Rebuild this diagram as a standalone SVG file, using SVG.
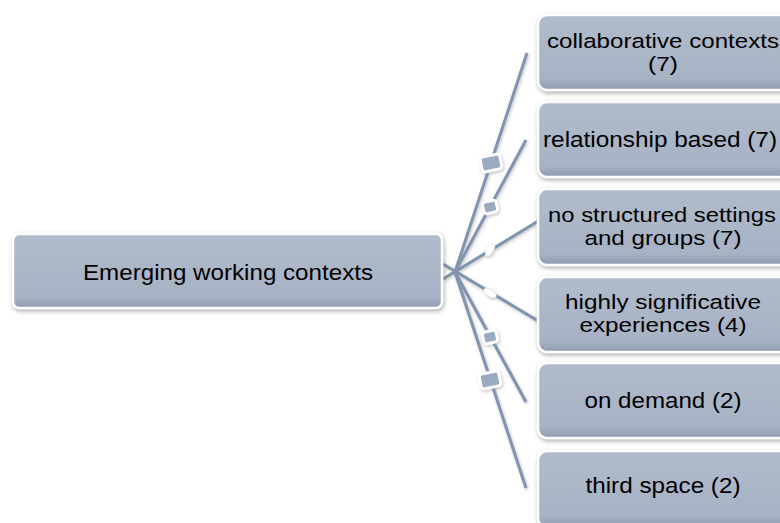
<svg xmlns="http://www.w3.org/2000/svg" width="780" height="523" viewBox="0 0 780 523">
<defs>
<linearGradient id="nodeFill" x1="0" y1="0" x2="0" y2="1">
<stop offset="0" stop-color="#b0bbcc"/>
<stop offset="0.85" stop-color="#a7b2c4"/>
<stop offset="1" stop-color="#8f9bb1"/>
</linearGradient>
<filter id="shadow" x="-10%" y="-20%" width="120%" height="150%">
<feDropShadow dx="1" dy="2" stdDeviation="2" flood-color="#6b6b6b" flood-opacity="0.55"/>
</filter>
<filter id="lineShadow" x="-20%" y="-20%" width="140%" height="140%">
<feDropShadow dx="1" dy="1.5" stdDeviation="1.5" flood-color="#888" flood-opacity="0.5"/>
</filter>
</defs>
<style>
.node{fill:url(#nodeFill);stroke:#ffffff;stroke-width:2.5;filter:url(#shadow);}
.lbl{font-family:"Liberation Sans",Arial,sans-serif;font-size:20.5px;fill:#000;text-anchor:middle;}
.big{font-size:22px;}
.conn{stroke:#8094b0;stroke-width:3;fill:none;stroke-linecap:butt;}
.mrk{fill:#9aaac0;stroke:#ffffff;stroke-width:3;}
.cap{fill:#ffffff;stroke:#e6e6e6;stroke-width:0.8;}
</style>
<rect width="780" height="523" fill="#ffffff"/>

<g id="connectors" filter="url(#lineShadow)">
<line class="conn" x1="455" y1="272" x2="527" y2="53"/>
<line class="conn" x1="455" y1="272" x2="526" y2="140"/>
<line class="conn" x1="443" y1="279" x2="540" y2="220"/>
<line class="conn" x1="443" y1="264" x2="540" y2="322"/>
<line class="conn" x1="455" y1="272" x2="526" y2="402"/>
<line class="conn" x1="455" y1="272" x2="526" y2="488"/>
<rect class="mrk" x="481" y="155.5" width="20" height="15" rx="3" transform="rotate(-12 491 163)"/>
<rect class="mrk" x="483" y="201" width="14" height="12" rx="3" transform="rotate(-12 490 207)"/>
<ellipse class="cap" cx="490" cy="250" rx="7" ry="3.4" transform="rotate(-58 490 250)"/>
<ellipse class="cap" cx="490" cy="293" rx="7" ry="3.4" transform="rotate(30 490 293)"/>
<rect class="mrk" x="483" y="331" width="14" height="12" rx="3" transform="rotate(-12 490 337)"/>
<rect class="mrk" x="480" y="372.5" width="20" height="15" rx="3" transform="rotate(-12 490 380)"/>
</g>

<g id="root">
<rect class="node" x="13" y="234" width="429" height="74" rx="6"/>
<text class="lbl big" x="228" y="280" textLength="290" lengthAdjust="spacingAndGlyphs">Emerging working contexts</text>
</g>

<g id="n1">
<rect class="node" x="538" y="15" width="262" height="75" rx="9"/>
<text class="lbl" x="663" y="48" textLength="232" lengthAdjust="spacingAndGlyphs">collaborative contexts</text>
<text class="lbl" x="663" y="71" textLength="30" lengthAdjust="spacingAndGlyphs">(7)</text>
</g>

<g id="n2">
<rect class="node" x="538" y="102" width="262" height="75" rx="9"/>
<text class="lbl big" x="660" y="147" textLength="234" lengthAdjust="spacingAndGlyphs">relationship based (7)</text>
</g>

<g id="n3">
<rect class="node" x="538" y="189" width="262" height="76" rx="9"/>
<text class="lbl" x="662" y="222" textLength="228" lengthAdjust="spacingAndGlyphs">no structured settings</text>
<text class="lbl" x="663" y="245" textLength="157" lengthAdjust="spacingAndGlyphs">and groups (7)</text>
</g>

<g id="n4">
<rect class="node" x="538" y="277" width="262" height="75" rx="9"/>
<text class="lbl" x="663" y="309" textLength="196" lengthAdjust="spacingAndGlyphs">highly significative</text>
<text class="lbl" x="663" y="332" textLength="167" lengthAdjust="spacingAndGlyphs">experiences (4)</text>
</g>

<g id="n5">
<rect class="node" x="538" y="363" width="262" height="75" rx="9"/>
<text class="lbl big" x="663" y="408" textLength="157" lengthAdjust="spacingAndGlyphs">on demand (2)</text>
</g>

<g id="n6">
<rect class="node" x="538" y="451" width="262" height="76" rx="9"/>
<text class="lbl big" x="663" y="493" textLength="155" lengthAdjust="spacingAndGlyphs">third space (2)</text>
</g>
</svg>
